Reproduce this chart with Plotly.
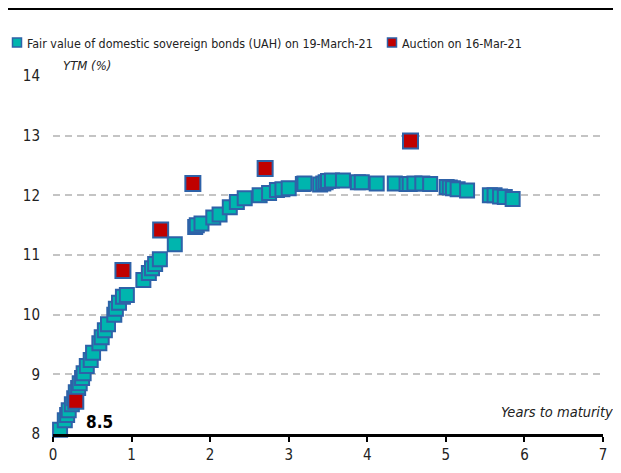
import plotly.graph_objects as go

# Fair value curve (years to maturity, YTM %)
fv_years = [0.09, 0.15, 0.18, 0.20, 0.24, 0.27, 0.29, 0.32, 0.34, 0.37, 0.39, 0.43, 0.48, 0.51,
            0.59, 0.62, 0.66, 0.70, 0.78, 0.80, 0.84, 0.89, 0.94, 1.15, 1.22, 1.26, 1.30, 1.36,
            1.55, 1.81, 1.83, 1.89, 2.04, 2.12, 2.25, 2.34, 2.44, 2.63, 2.75, 2.85, 2.92, 3.00,
            3.18, 3.20, 3.40, 3.44, 3.47, 3.50, 3.55, 3.69, 3.88, 3.93, 4.12, 4.35, 4.50, 4.54,
            4.60, 4.70, 4.80, 5.01, 5.05, 5.09, 5.15, 5.27, 5.56, 5.62, 5.69, 5.75, 5.85]
fv_ytm = [8.07, 8.23, 8.32, 8.40, 8.50, 8.60, 8.70, 8.77, 8.85, 8.94, 9.02, 9.14, 9.24, 9.36,
          9.52, 9.62, 9.74, 9.84, 10.00, 10.10, 10.20, 10.30, 10.33, 10.58, 10.70, 10.78, 10.85, 10.93,
          11.18, 11.47, 11.50, 11.53, 11.63, 11.68, 11.80, 11.89, 11.95, 12.00, 12.04, 12.09, 12.10, 12.12,
          12.19, 12.20, 12.18, 12.20, 12.22, 12.24, 12.25, 12.25, 12.22, 12.22, 12.20, 12.20, 12.19, 12.19,
          12.20, 12.20, 12.19, 12.14, 12.13, 12.12, 12.10, 12.08, 12.00, 12.00, 11.98, 11.97, 11.94]

# Auction results
auc_years = [0.29, 0.89, 1.37, 1.78, 2.70, 4.55]
auc_ytm = [8.55, 10.74, 11.42, 12.20, 12.45, 12.91]

x_ticks = [0, 1, 2, 3, 4, 5, 6, 7]
y_ticks = [8, 9, 10, 11, 12, 13, 14]

fv_name = "Fair value of domestic sovereign bonds (UAH) on 19-March-21"
auc_name = "Auction on 16-Mar-21"

FONT = "DejaVu Sans Condensed, Liberation Sans Narrow, Arial Narrow, sans-serif"
BORDER = "#2E62A8"
TEAL = "#00B5AE"
RED = "#C00000"
TXT = "#222222"

fig = go.Figure()
fig.add_trace(go.Scatter(
    x=fv_years, y=fv_ytm, mode="markers", name=fv_name,
    marker=dict(symbol="square", size=14, color=TEAL, line=dict(color=BORDER, width=2)),
    cliponaxis=False,
))
fig.add_trace(go.Scatter(
    x=auc_years, y=auc_ytm, mode="markers", name=auc_name,
    marker=dict(symbol="square", size=15, color=RED, line=dict(color=BORDER, width=2)),
    cliponaxis=False,
))

# page body has an 8px margin: design in reference pixel coordinates shifted by 8
OFF = 8
W, H = 621 - OFF, 473 - OFF
L, R, T, B = 53 - OFF, 18, 76 - OFF, 39
pw, ph = W - L - R, H - T - B

def px_x(p):
    return (p - OFF - L) / pw

def px_y(p):
    return (H - B - (p - OFF)) / ph

fig.update_layout(
    width=W, height=H,
    margin=dict(l=L, r=R, t=T, b=B, autoexpand=False),
    paper_bgcolor="white", plot_bgcolor="white",
    font=dict(family=FONT, size=14, color=TXT),
    showlegend=False,
    xaxis=dict(range=[0, 7], tickvals=x_ticks, showgrid=False, zeroline=False,
               showline=True, linecolor="black", linewidth=2.5,
               ticks="outside", ticklen=5, tickwidth=2, tickcolor="black",
               tickfont=dict(family=FONT, size=15, color=TXT)),
    yaxis=dict(range=[8, 14], tickvals=y_ticks, showgrid=True, gridcolor="#C4C4C4",
               griddash="7px,5px", gridwidth=1.5, zeroline=False, showline=False,
               ticks="", ticklabelstandoff=12,
               tickfont=dict(family=FONT, size=15, color=TXT)),
)

# top rule (as high as the figure area allows)
fig.add_shape(type="line", xref="paper", yref="paper",
              x0=px_x(0), x1=px_x(621), y0=px_y(OFF + 1), y1=px_y(OFF + 1),
              line=dict(color="black", width=2))

# legend (drawn as swatches + labels)
for (cx, col, label, tx) in [(17, TEAL, fv_name, 25), (392, RED, auc_name, 400)]:
    fig.add_shape(type="rect", xref="paper", yref="paper",
                  x0=px_x(cx - 4.5), x1=px_x(cx + 4.5), y0=px_y(47), y1=px_y(38),
                  fillcolor=col, line=dict(color=BORDER, width=1.5))
    fig.add_annotation(text=label, xref="paper", yref="paper",
                       x=px_x(tx), y=px_y(43), xanchor="left", yanchor="middle",
                       showarrow=False, font=dict(family=FONT, size=12.4, color=TXT))

fig.add_annotation(text="<i>YTM (%)</i>", xref="paper", yref="paper",
                   x=px_x(60), y=px_y(66), xanchor="left", yanchor="middle",
                   showarrow=False, bgcolor="white", borderpad=2,
                   font=dict(family=FONT, size=13, color=TXT))
fig.add_annotation(text="<i>Years to maturity</i>", xref="paper", yref="paper",
                   x=px_x(615), y=px_y(412), xanchor="right", yanchor="middle",
                   showarrow=False, font=dict(family=FONT, size=14.5, color=TXT))
fig.add_annotation(text="<b>8.5</b>", x=0.39, y=8.2, xref="x", yref="y",
                   xanchor="left", yanchor="middle", showarrow=False,
                   font=dict(family=FONT, size=17, color="black"))

fig.write_html("out.html")
